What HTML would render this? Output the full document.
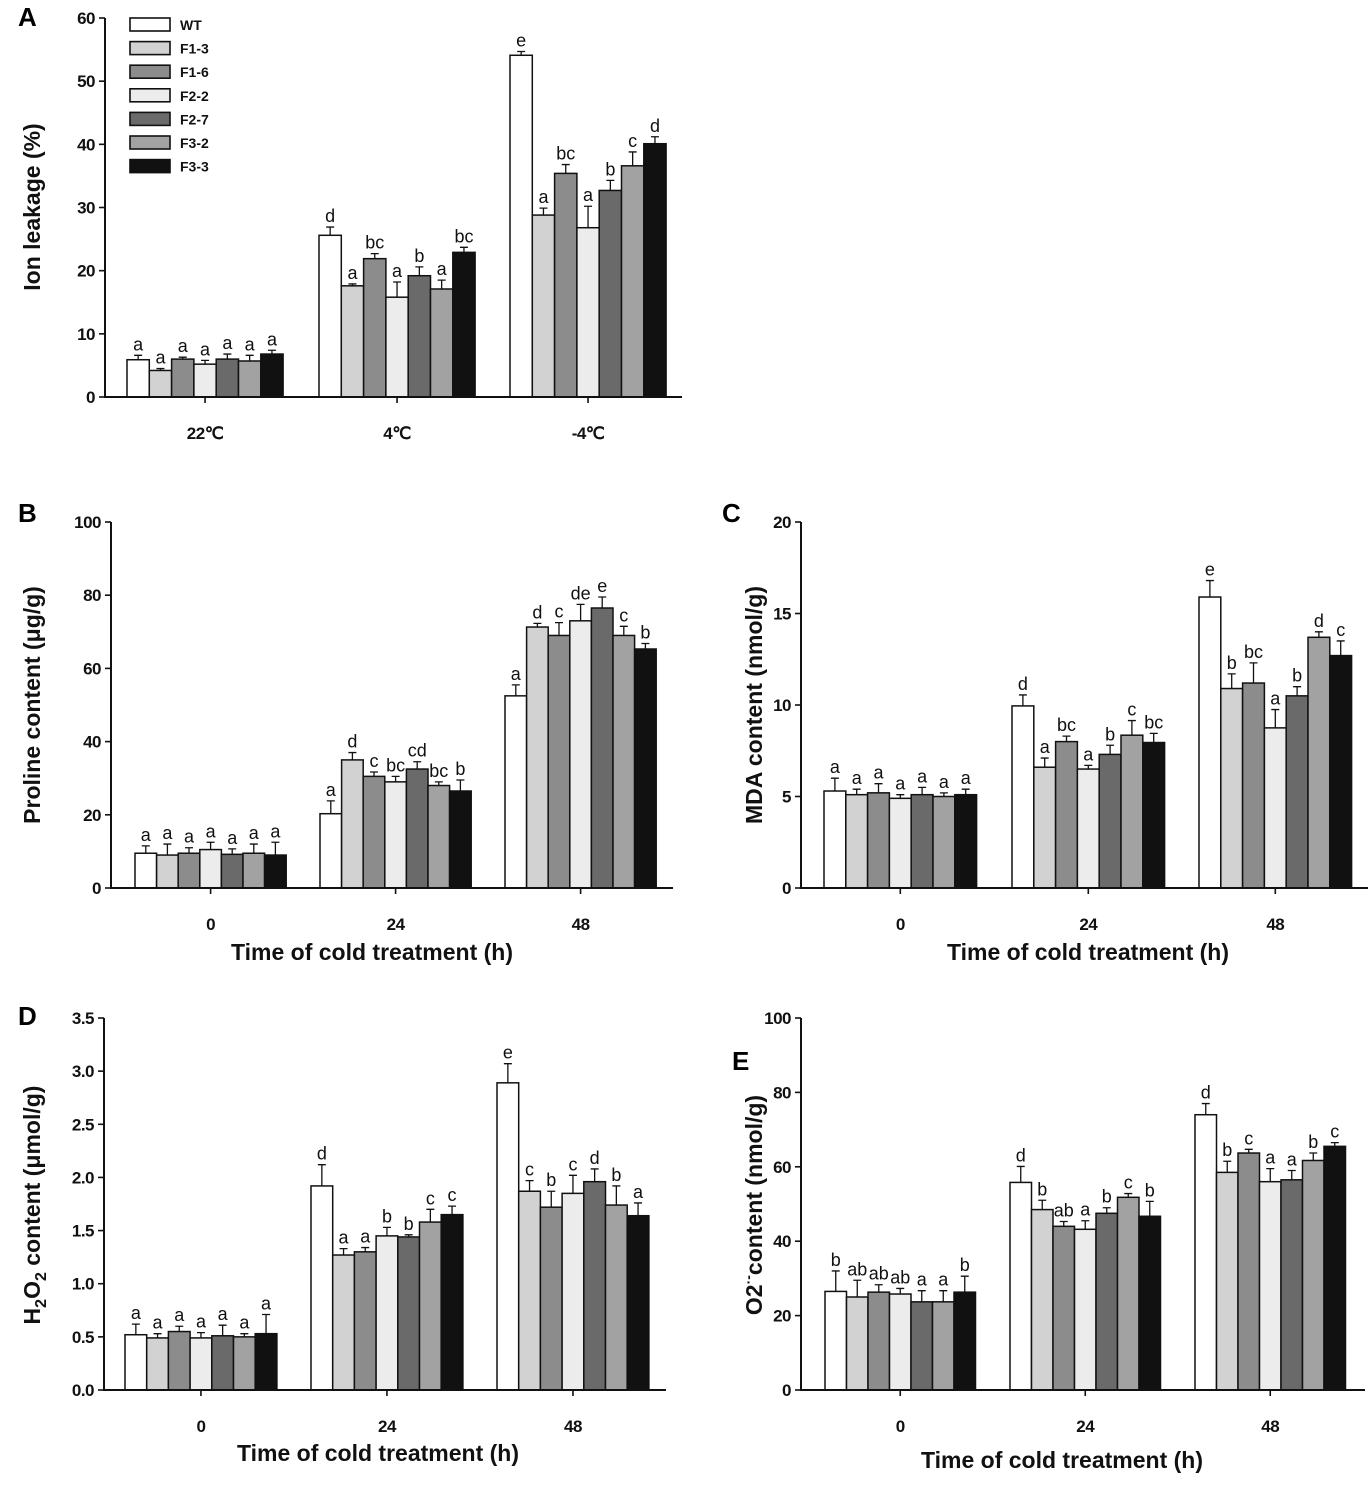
<!DOCTYPE html>
<html><head><meta charset="utf-8">
<style>
body{margin:0;background:#fff;}
svg{display:block;font-family:"Liberation Sans",Arial,sans-serif;}
.tick{font-size:17px;font-weight:bold;fill:#111;letter-spacing:-0.5px;}
.ann{font-size:18px;fill:#111;}
.title{font-size:23px;font-weight:bold;fill:#111;}
.plet{font-size:26px;font-weight:bold;fill:#000;}
.leg{font-size:14px;font-weight:bold;fill:#111;}
</style></head>
<body>
<svg id="fig" width="1370" height="1485" viewBox="0 0 1370 1485" xmlns="http://www.w3.org/2000/svg"></svg>
<script>
const lines = ["WT","F1-3","F1-6","F2-2","F2-7","F3-2","F3-3"];
const fills = ["#ffffff","#d2d2d2","#8c8c8c","#ececec","#6a6a6a","#a2a2a2","#111111"];

const catsA = ["22℃","4℃","-4℃"];
const valsA = [[5.9,4.2,6.0,5.2,6.0,5.7,6.8],[25.6,17.6,21.9,15.8,19.2,17.1,22.9],[54.1,28.8,35.4,26.8,32.7,36.6,40.1]];
const errA = [[0.7,0.3,0.3,0.6,0.8,0.9,0.6],[1.3,0.3,0.8,2.4,1.4,1.4,0.8],[0.6,1.1,1.4,3.4,1.6,2.2,1.1]];
const letA = [["a","a","a","a","a","a","a"],["d","a","bc","a","b","a","bc"],["e","a","bc","a","b","c","d"]];
const ticksA = [0,10,20,30,40,50,60];

const catsT = ["0","24","48"];
const valsB = [[9.5,9.0,9.5,10.5,9.2,9.5,9.0],[20.3,35.0,30.5,29.0,32.5,28.0,26.5],[52.5,71.3,69.0,73.0,76.5,69.0,65.3]];
const errB = [[2,3,1.5,2,1.5,2.5,3.5],[3.5,2,1.2,1.5,2,1,3],[3,1,3.5,4.5,3,2.5,1.5]];
const letB = [["a","a","a","a","a","a","a"],["a","d","c","bc","cd","bc","b"],["a","d","c","de","e","c","b"]];
const ticksB = [0,20,40,60,80,100];

const valsC = [[5.3,5.1,5.2,4.9,5.1,5.0,5.1],[9.95,6.6,8.0,6.5,7.3,8.35,7.95],[15.9,10.9,11.2,8.75,10.5,13.7,12.7]];
const errC = [[0.7,0.3,0.5,0.2,0.4,0.2,0.3],[0.6,0.5,0.3,0.2,0.5,0.8,0.5],[0.9,0.8,1.1,1.0,0.5,0.3,0.8]];
const letC = [["a","a","a","a","a","a","a"],["d","a","bc","a","b","c","bc"],["e","b","bc","a","b","d","c"]];
const ticksC = [0,5,10,15,20];

const valsD = [[0.52,0.49,0.55,0.49,0.51,0.50,0.53],[1.92,1.27,1.30,1.45,1.44,1.58,1.65],[2.89,1.87,1.72,1.85,1.96,1.74,1.64]];
const errD = [[0.1,0.04,0.05,0.05,0.1,0.03,0.18],[0.2,0.06,0.04,0.08,0.02,0.12,0.08],[0.18,0.1,0.15,0.17,0.12,0.18,0.12]];
const letD = [["a","a","a","a","a","a","a"],["d","a","a","b","b","c","c"],["e","c","b","c","d","b","a"]];
const ticksD = [0,0.5,1.0,1.5,2.0,2.5,3.0,3.5];

const valsE = [[26.5,25.0,26.3,25.8,23.7,23.7,26.3],[55.8,48.5,44.0,43.2,47.5,51.8,46.7],[74.0,58.5,63.7,56.0,56.5,61.7,65.5]];
const errE = [[5.5,4.5,2,1.5,3,3,4.3],[4.3,2.5,1.3,2.3,1.5,1,4],[3,3,1,3.5,2.5,2,1]];
const letE = [["b","ab","ab","ab","a","a","b"],["d","b","ab","a","b","c","b"],["d","b","c","a","a","b","c"]];
const ticksE = [0,20,40,60,80,100];

const NS = "http://www.w3.org/2000/svg";
const svg = document.getElementById("fig");
function mk(tag, attrs, parent, text){
  const e = document.createElementNS(NS, tag);
  for (const k in attrs) e.setAttribute(k, attrs[k]);
  if (text !== undefined) e.textContent = text;
  (parent||svg).appendChild(e);
  return e;
}

function panel(cfg){
  const g = mk("g", {});
  
  
  const yScale = v => cfg.y0 - (v / cfg.max) * (cfg.y0 - cfg.yTop);
  const barW = cfg.bw;
  cfg.vals.forEach((grp, gi) => {
    grp.forEach((v, si) => {
      const x = cfg.starts[gi] + si * barW;
      const y = yScale(v);
      const r = mk("rect", {x:x, y:y, width:barW, height:cfg.y0 - y, fill:fills[si], stroke:"#111", "stroke-width":1.5}, g);
      
      
      const cx = x + barW/2, ye = yScale(v + cfg.err[gi][si]);
      const eb = mk("path", {d:`M${cx},${y} V${ye} M${cx-4},${ye} H${cx+4}`, stroke:"#111", "stroke-width":1.3, fill:"none"}, g);
      
      
      const t = mk("text", {x:cx, y:ye - 5, "text-anchor":"middle", class:"ann"}, g, cfg.lets[gi][si]);
      
      
    });
  });
  const ax = mk("path", {d:`M${cfg.ax},${cfg.yTop} V${cfg.y0} H${cfg.axEnd}`, stroke:"#111", "stroke-width":2, fill:"none"}, g);
  
  
  cfg.ticks.forEach(tv => {
    const y = yScale(tv);
    mk("line", {x1:cfg.ax-6, x2:cfg.ax, y1:y, y2:y, stroke:"#111", "stroke-width":1.6}, g);
    const t = mk("text", {x:cfg.ax-10, y:y+6, "text-anchor":"end", class:"tick"}, g, cfg.fmt ? tv.toFixed(1) : String(tv));
    
    
  });
  cfg.cats.forEach((c, gi) => {
    const cx = cfg.starts[gi] + barW * 3.5;
    mk("line", {x1:cx, x2:cx, y1:cfg.y0, y2:cfg.y0+6, stroke:"#111", "stroke-width":1.6}, g);
    const t = mk("text", {x:cx, y:cfg.y0 + 42, "text-anchor":"middle", class:"tick"}, g, c);
    
    
  });
  const yt = mk("text", {x:cfg.ylx, y:cfg.yly, "text-anchor":"middle", class:"title", transform:`rotate(-90 ${cfg.ylx} ${cfg.yly})`}, g);
  yt.innerHTML = cfg.ylabel;
  
  
  if (cfg.xlabel){
    const xt = mk("text", {x:cfg.xlx, y:cfg.xly, "text-anchor":"middle", class:"title"}, g, cfg.xlabel);
    
    
  }
  const pl = mk("text", {x:cfg.plx, y:cfg.ply, class:"plet"}, g, cfg.letter);
  
  
}

panel({name:"panel-a-ion-leakage", vals:valsA, err:errA, lets:letA, cats:catsA, ticks:ticksA, max:60, y0:397, yTop:18, ax:105, axEnd:682, starts:[127,319,510], bw:22.3, ylabel:"Ion leakage (%)", ylx:40, yly:207, letter:"A", plx:18, ply:26});
panel({name:"panel-b-proline", vals:valsB, err:errB, lets:letB, cats:catsT, ticks:ticksB, max:100, y0:888, yTop:522, ax:111, axEnd:673, starts:[135,320,505], bw:21.6, ylabel:"Proline content (μg/g)", ylx:40, yly:705, xlabel:"Time of cold treatment (h)", xlx:372, xly:960, letter:"B", plx:18, ply:522});
panel({name:"panel-c-mda", vals:valsC, err:errC, lets:letC, cats:catsT, ticks:ticksC, max:20, y0:888, yTop:522, ax:801, axEnd:1368, starts:[824,1012,1199], bw:21.8, ylabel:"MDA content (nmol/g)", ylx:762, yly:705, xlabel:"Time of cold treatment (h)", xlx:1088, xly:960, letter:"C", plx:722, ply:522});
panel({name:"panel-d-h2o2", vals:valsD, err:errD, lets:letD, cats:catsT, ticks:ticksD, max:3.5, fmt:true, y0:1390, yTop:1018, ax:104, axEnd:666, starts:[125,311,497], bw:21.7, ylabel:'H<tspan font-size="16" dy="6">2</tspan><tspan dy="-6">O</tspan><tspan font-size="16" dy="6">2</tspan><tspan dy="-6"> content (μmol/g)</tspan>', ylx:40, yly:1205, xlabel:"Time of cold treatment (h)", xlx:378, xly:1461, letter:"D", plx:18, ply:1025});
panel({name:"panel-e-superoxide", vals:valsE, err:errE, lets:letE, cats:catsT, ticks:ticksE, max:100, y0:1390, yTop:1018, ax:801, axEnd:1365, starts:[825,1010,1195], bw:21.5, ylabel:'O2<tspan font-size="14" dy="-9">·-</tspan><tspan dy="9">content (nmol/g)</tspan>', ylx:762, yly:1205, xlabel:"Time of cold treatment (h)", xlx:1062, xly:1468, letter:"E", plx:732, ply:1070});

const lg = mk("g", {});


lines.forEach((n, i) => {
  const y = 18 + i * 23.6;
  const r = mk("rect", {x:130, y:y, width:40, height:13, fill:fills[i], stroke:"#111", "stroke-width":1.6}, lg);
  
  
  const t = mk("text", {x:180, y:y+12, class:"leg"}, lg, n);
  
  
});
</script>
</body></html>
